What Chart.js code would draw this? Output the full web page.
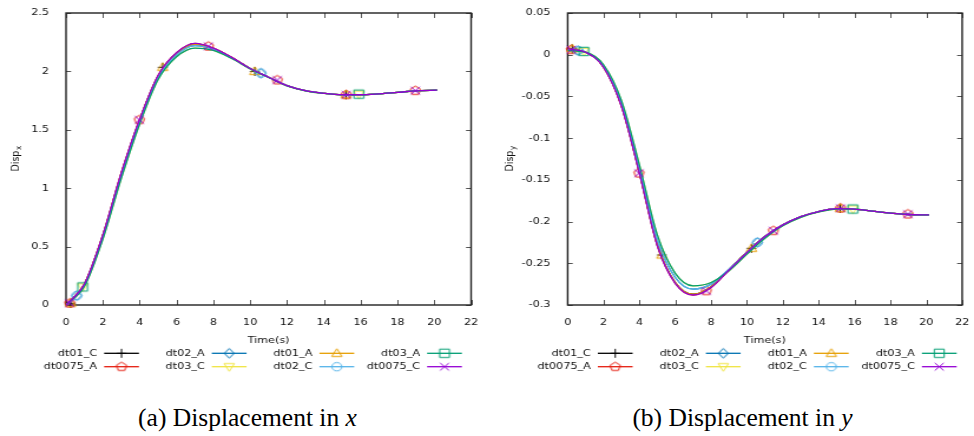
<!DOCTYPE html>
<html>
<head>
<meta charset="utf-8">
<script src="https://cdn.jsdelivr.net/npm/chart.js@4.4.1/dist/chart.umd.min.js"></script>
<style>
  html, body { margin: 0; padding: 0; background: #fff; }
  #page { position: relative; width: 974px; height: 436px; overflow: hidden; }
  /* the gnuplot pictures are stretched sideways in the figure, so are ours */
  .panel { position: absolute; top: 0; width: 413px; height: 380px; transform: scaleX(1.1792); transform-origin: 0 0; }
  .caption { position: absolute; top: 406px; width: 487px; text-align: center;
             font-family: "Liberation Serif", "Times New Roman", serif; font-size: 25.5px; line-height: 24px; color: #000; }
</style>
</head>
<body>
<div id="page">
  <div class="panel" style="left:0"><canvas id="chartA" width="413" height="380"></canvas></div>
  <div class="panel" style="left:487px"><canvas id="chartB" width="413" height="380"></canvas></div>
  <div class="caption" style="left:4px">(a) Displacement in <i>x</i></div>
  <div class="caption" style="left:499px">(b) Displacement in <i>y</i></div>
</div>
<script>
// series, in gnuplot plot order
const seriesNames = ['dt01_C', 'dt0075_A', 'dt02_A', 'dt03_C', 'dt01_A', 'dt02_C', 'dt03_A', 'dt0075_C'];
const seriesColors = ['#000000', '#e51e10', '#0072b2', '#f0e442', '#e69f00', '#56b4e9', '#009e73', '#9400d3'];
const seriesMarkers = ['plus', 'pentagon', 'diamond', 'triangleDown', 'triangle', 'circle', 'square', 'cross'];
const seriesStep = ['dt01', 'dt0075', 'dt02', 'dt03', 'dt01', 'dt02', 'dt03', 'dt0075'];

// time samples (s)
const time = [0, 1, 2, 3, 4, 5, 6, 7, 8, 9, 10, 11, 12, 13, 14, 15, 16, 17, 18, 19, 20.15];

// (a) Disp x
const dispX_dt0075 = [0, 0.18, 0.60, 1.13, 1.59, 1.965, 2.16, 2.24, 2.20, 2.12, 2.025, 1.95, 1.878, 1.835, 1.812, 1.80, 1.80, 1.808, 1.82, 1.834, 1.84];
const dispX_dt01   = [0, 0.18, 0.595, 1.125, 1.585, 1.96, 2.155, 2.232, 2.197, 2.118, 2.025, 1.95, 1.878, 1.835, 1.812, 1.80, 1.80, 1.808, 1.82, 1.834, 1.84];
const dispX_dt02   = [0, 0.17, 0.58, 1.105, 1.57, 1.945, 2.14, 2.22, 2.19, 2.115, 2.025, 1.95, 1.878, 1.835, 1.812, 1.80, 1.80, 1.808, 1.82, 1.834, 1.84];
const dispX_dt03   = [0, 0.16, 0.565, 1.085, 1.55, 1.93, 2.125, 2.20, 2.18, 2.11, 2.022, 1.948, 1.876, 1.834, 1.811, 1.80, 1.80, 1.808, 1.82, 1.834, 1.84];

// (b) Disp y
const dispY_dt0075 = [0.007, 0.003, -0.015, -0.062, -0.142, -0.229, -0.274, -0.288, -0.279, -0.258, -0.237, -0.218, -0.204, -0.194, -0.188, -0.1845, -0.185, -0.1875, -0.190, -0.1915, -0.192];
const dispY_dt01   = [0.007, 0.003, -0.0145, -0.061, -0.141, -0.228, -0.273, -0.287, -0.278, -0.2575, -0.2365, -0.218, -0.204, -0.194, -0.188, -0.1845, -0.185, -0.1875, -0.190, -0.1915, -0.192];
const dispY_dt02   = [0.006, 0.003, -0.0135, -0.058, -0.137, -0.222, -0.267, -0.281, -0.275, -0.257, -0.237, -0.218, -0.204, -0.194, -0.188, -0.1845, -0.185, -0.1875, -0.190, -0.1915, -0.192];
const dispY_dt03   = [0.005, 0.003, -0.012, -0.055, -0.132, -0.216, -0.262, -0.277, -0.273, -0.259, -0.239, -0.220, -0.205, -0.195, -0.1885, -0.185, -0.185, -0.1875, -0.190, -0.1915, -0.192];

// marker times (every n-th output step of each run)
const markTime_dt0075 = [0.2, 3.98, 7.73, 11.47, 15.22, 18.97];
const markTime_dt01   = [0.25, 5.25, 10.25, 15.2];
const markTime_dt02   = [0.58, 10.58];
const markTime_dt03   = [0.9, 15.9];

const markX_dt0075 = [0.015, 1.585, 2.215, 1.926, 1.80, 1.835];
const markX_dt01   = [0.015, 2.035, 2.00, 1.80];
const markX_dt02   = [0.08, 1.985];
const markX_dt03   = [0.155, 1.805];

const markY_dt0075 = [0.006, -0.142, -0.283, -0.211, -0.184, -0.191];
const markY_dt01   = [0.007, -0.240, -0.232, -0.184];
const markY_dt02   = [0.005, -0.225];
const markY_dt03   = [0.004, -0.185];

// ticks
const xTicks = [0, 2, 4, 6, 8, 10, 12, 14, 16, 18, 20, 22];
const yTicksA = [0, 0.5, 1, 1.5, 2, 2.5];
const yLabelsA = ['0', '0.5', '1', '1.5', '2', '2.5'];
const yTicksB = [-0.3, -0.25, -0.2, -0.15, -0.1, -0.05, 0, 0.05];
const yLabelsB = ['-0.3', '-0.25', '-0.2', '-0.15', '-0.1', '-0.05', '0', '0.05'];

const FONT = '"DejaVu Sans", sans-serif';

function makeMarker(kind, color) {
    const c = document.createElement('canvas');
    c.width = 13; c.height = 13;
    const g = c.getContext('2d');
    const m = 6.5;
    g.strokeStyle = color;
    g.lineWidth = 1;
    g.beginPath();
    switch (kind) {
        case 'plus':
            g.moveTo(m - 4, m); g.lineTo(m + 4, m); g.moveTo(m, m - 4.5); g.lineTo(m, m + 4.5); break;
        case 'cross':
            g.moveTo(m - 3.8, m - 3.8); g.lineTo(m + 3.8, m + 3.8); g.moveTo(m + 3.8, m - 3.8); g.lineTo(m - 3.8, m + 3.8); break;
        case 'square':
            g.rect(m - 4.2, m - 4.2, 8.4, 8.4); break;
        case 'circle':
            g.arc(m, m, 4.2, 0, Math.PI * 2); break;
        case 'triangle':
            g.moveTo(m, m - 4.6); g.lineTo(m + 4.4, m + 3.2); g.lineTo(m - 4.4, m + 3.2); g.closePath(); break;
        case 'triangleDown':
            g.moveTo(m, m + 4.6); g.lineTo(m + 4.4, m - 3.2); g.lineTo(m - 4.4, m - 3.2); g.closePath(); break;
        case 'diamond':
            g.moveTo(m, m - 4.8); g.lineTo(m + 4.2, m); g.lineTo(m, m + 4.8); g.lineTo(m - 4.2, m); g.closePath(); break;
        case 'pentagon':
            for (let i = 0; i < 5; i++) {
                const a = -Math.PI / 2 + i * 2 * Math.PI / 5;
                const px = m + 4.6 * Math.cos(a), py = m + 4.6 * Math.sin(a);
                if (i === 0) g.moveTo(px, py); else g.lineTo(px, py);
            }
            g.closePath(); break;
    }
    g.stroke();
    return c;
}

const markerImgs = seriesMarkers.map((k, i) => makeMarker(k, seriesColors[i]));

// gnuplot style border, inward ticks on all sides, y title with subscript
const framePlugin = {
    id: 'gpFrame',
    beforeDatasetsDraw(chart, args, opts) {
        const {ctx, chartArea: a, scales} = chart;
        ctx.save();
        ctx.strokeStyle = '#555';
        ctx.lineWidth = 1;
        ctx.beginPath();
        scales.x.ticks.forEach(t => {
            const px = Math.round(scales.x.getPixelForValue(t.value)) + 0.5;
            ctx.moveTo(px, a.bottom); ctx.lineTo(px, a.bottom - 5);
            ctx.moveTo(px, a.top); ctx.lineTo(px, a.top + 5);
        });
        scales.y.ticks.forEach(t => {
            const py = Math.round(scales.y.getPixelForValue(t.value)) + 0.5;
            ctx.moveTo(a.left, py); ctx.lineTo(a.left + 4.3, py);
            ctx.moveTo(a.right, py); ctx.lineTo(a.right - 4.3, py);
        });
        ctx.stroke();
        ctx.strokeStyle = '#222';
        ctx.lineWidth = 1.4;
        ctx.strokeRect(a.left, a.top, a.right - a.left, a.bottom - a.top);

        // y axis title
        ctx.translate(opts.titleX, (a.top + a.bottom) / 2);
        ctx.rotate(-Math.PI / 2);
        ctx.fillStyle = '#111';
        ctx.textBaseline = 'middle';
        ctx.textAlign = 'left';
        ctx.font = '9.5px ' + FONT;
        const w1 = ctx.measureText('Disp').width;
        ctx.font = '7px ' + FONT;
        const w2 = ctx.measureText(opts.sub).width;
        ctx.font = '9.5px ' + FONT;
        ctx.fillText('Disp', -(w1 + w2) / 2, 0);
        ctx.font = '7px ' + FONT;
        ctx.fillText(opts.sub, -(w1 + w2) / 2 + w1 + 0.5, 2.5);
        ctx.restore();
    }
};

// key below the plot, 4 columns x 2 rows
const keyPlugin = {
    id: 'gpKey',
    afterDraw(chart, args, opts) {
        const ctx = chart.ctx;
        ctx.save();
        ctx.font = '9.5px ' + FONT;
        ctx.textAlign = 'right';
        ctx.textBaseline = 'middle';
        seriesNames.forEach((name, k) => {
            const col = Math.floor(k / 2), row = k % 2;
            const tx = opts.x0 + col * opts.colW;
            const y = opts.y0 + row * opts.rowH;
            ctx.fillStyle = '#111';
            ctx.fillText(name, tx, y);
            const sx = tx + opts.gap;
            ctx.strokeStyle = seriesColors[k];
            ctx.lineWidth = 1.3;
            ctx.beginPath();
            ctx.moveTo(sx, y); ctx.lineTo(sx + opts.len, y);
            ctx.stroke();
            const img = markerImgs[k];
            ctx.drawImage(img, sx + opts.len / 2 - img.width / 2, y - img.height / 2);
        });
        ctx.restore();
    }
};

function buildChart(id, curves, marks, yTicks, yLabels, sub, geo) {
    const markTimes = {dt0075: markTime_dt0075, dt01: markTime_dt01, dt02: markTime_dt02, dt03: markTime_dt03};
    const datasets = [];
    seriesNames.forEach((name, k) => {
        const step = seriesStep[k];
        datasets.push({
            label: name,
            data: time.map((t, i) => ({x: t, y: curves[step][i]})),
            borderColor: seriesColors[k],
            borderWidth: 1.3,
            pointRadius: 0,
            cubicInterpolationMode: 'monotone',
            fill: false,
            order: 2 * (7 - k) + 1
        });
        datasets.push({
            label: name + ' points',
            data: markTimes[step].map((t, i) => ({x: t, y: marks[step][i]})),
            showLine: false,
            pointStyle: markerImgs[k],
            pointRadius: 4,
            clip: false,
            order: 2 * (7 - k)
        });
    });

    return new Chart(document.getElementById(id).getContext('2d'), {
        type: 'line',
        data: {datasets: datasets},
        options: {
            responsive: false,
            animation: false,
            events: [],
            layout: {padding: {left: 0, top: 13, right: 413 - geo.right, bottom: 34}},
            scales: {
                x: {
                    type: 'linear', min: 0, max: 22,
                    grid: {display: false},
                    border: {display: false},
                    afterBuildTicks: s => { s.ticks = xTicks.map(v => ({value: v})); },
                    afterFit: s => { s.height = 41; },
                    ticks: {padding: 4, color: '#111', font: {family: FONT, size: 9.5}, maxRotation: 0,
                            callback: (v, i) => String(xTicks[i])},
                    title: {display: true, text: 'Time(s)', color: '#111', padding: 0,
                            font: {family: FONT, size: 9.5}}
                },
                y: {
                    type: 'linear', min: yTicks[0], max: yTicks[yTicks.length - 1],
                    grid: {display: false},
                    border: {display: false},
                    afterBuildTicks: s => { s.ticks = yTicks.map(v => ({value: v})); },
                    afterFit: s => { s.width = geo.left; },
                    ticks: {padding: 6.5, color: '#111', font: {family: FONT, size: 9.5},
                            callback: (v, i) => yLabels[i]}
                }
            },
            plugins: {
                legend: {display: false},
                tooltip: {enabled: false},
                gpFrame: {titleX: geo.titleX, sub: sub},
                gpKey: {x0: geo.keyX, colW: geo.keyColW, y0: 353.3, rowH: 13.4, gap: 6, len: 29.5}
            }
        },
        plugins: [framePlugin, keyPlugin]
    });
}

buildChart('chartA',
    {dt0075: dispX_dt0075, dt01: dispX_dt01, dt02: dispX_dt02, dt03: dispX_dt03},
    {dt0075: markX_dt0075, dt01: markX_dt01, dt02: markX_dt02, dt03: markX_dt03},
    yTicksA, yLabelsA, 'x',
    {left: 56.0, right: 399.5, titleX: 13.5, keyX: 82.3, keyColW: 91.3});

buildChart('chartB',
    {dt0075: dispY_dt0075, dt01: dispY_dt01, dt02: dispY_dt02, dt03: dispY_dt03},
    {dt0075: markY_dt0075, dt01: markY_dt01, dt02: markY_dt02, dt03: markY_dt03},
    yTicksB, yLabelsB, 'y',
    {left: 68.4, right: 406.0, titleX: 19.5, keyX: 88.0, keyColW: 91.6});
</script>
</body>
</html>
